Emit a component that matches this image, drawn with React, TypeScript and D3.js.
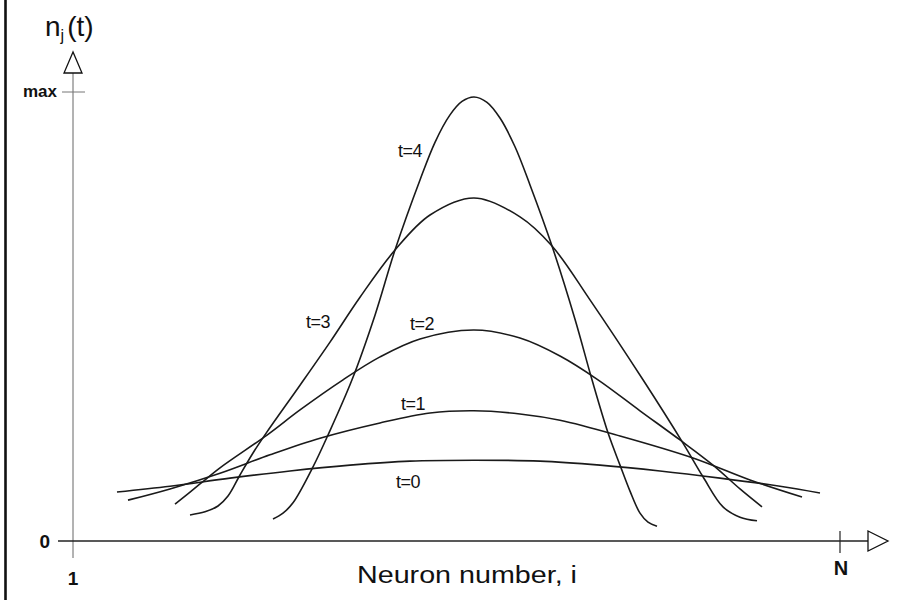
import React from "react";
import * as d3 from "d3";

// Neuron index axis runs from 1 to N (N = 768 neurons); activity from 0 to max (=1)
const N_NEURONS = 768;
const MAX_VALUE = 1;

const xTickLabels = ["1", "N"];
const yTickLabels = ["0", "max"];

// t = 0
const t0Index = [45, 98, 158, 218, 278, 338, 402, 468, 528, 588, 648, 708, 748];
const t0Value = [0.109, 0.122, 0.14, 0.156, 0.169, 0.178, 0.18, 0.178, 0.169, 0.156, 0.14, 0.122, 0.107];

// t = 1
const t1Index = [56, 98, 148, 198, 248, 308, 358, 402, 448, 488, 548, 621, 678, 730];
const t1Value = [0.091, 0.116, 0.151, 0.192, 0.229, 0.263, 0.285, 0.29, 0.283, 0.269, 0.234, 0.185, 0.136, 0.098];

// t = 2
const t2Index = [103, 128, 148, 195, 228, 271, 308, 348, 402, 448, 488, 526, 568, 608, 641, 668, 690];
const t2Value = [0.082, 0.127, 0.163, 0.236, 0.292, 0.359, 0.41, 0.45, 0.47, 0.452, 0.412, 0.359, 0.29, 0.225, 0.169, 0.116, 0.076];

// t = 3
const t3Index = [118, 133, 146, 156, 168, 181, 195, 228, 258, 288, 323, 358, 402, 448, 480, 518, 571, 611, 631, 651, 668, 685];
const t3Value = [0.058, 0.065, 0.078, 0.1, 0.147, 0.196, 0.243, 0.347, 0.443, 0.543, 0.648, 0.726, 0.764, 0.722, 0.657, 0.537, 0.359, 0.218, 0.143, 0.076, 0.053, 0.045];

// t = 4
const t4Index = [201, 211, 221, 241, 256, 280, 303, 323, 348, 363, 378, 390, 402, 415, 428, 443, 458, 480, 503, 520, 536, 548, 558, 568, 576, 585];
const t4Value = [0.049, 0.062, 0.085, 0.165, 0.236, 0.359, 0.503, 0.648, 0.804, 0.888, 0.949, 0.979, 0.989, 0.977, 0.942, 0.878, 0.793, 0.657, 0.494, 0.359, 0.241, 0.169, 0.111, 0.062, 0.042, 0.033];

const seriesNames = ["t=0", "t=1", "t=2", "t=3", "t=4"];
const seriesIndex = [t0Index, t1Index, t2Index, t3Index, t4Index];
const seriesValue = [t0Value, t1Value, t2Value, t3Value, t4Value];

// label anchors in data units (neuron index, activity)
const labelIndex = [336, 341, 350, 246, 338];
const labelValue = [0.118, 0.292, 0.47, 0.474, 0.855];

const W = 901;
const H = 600;
const FONT = "'Liberation Sans', Arial, sans-serif";

export default function App() {
  const x = d3.scaleLinear().domain([1, N_NEURONS]).range([73, 840]);
  const y = d3.scaleLinear().domain([0, MAX_VALUE]).range([541, 92]);

  const line = d3
    .line<[number, number]>()
    .x((d) => x(d[0]))
    .y((d) => y(d[1]))
    .curve(d3.curveCatmullRom.alpha(0.5));

  const x0 = x(1);
  const xN = x(N_NEURONS);
  const y0 = y(0);
  const yMax = y(MAX_VALUE);

  const yArrowTip = 52;
  const yArrowBase = 73;
  const xArrowBase = 868;
  const xArrowTip = 888;

  return (
    <svg
      width={W}
      height={H}
      viewBox={`0 0 ${W} ${H}`}
      style={{ position: "absolute", left: 0, top: 0, background: "#ffffff" }}
    >
      <rect x={0} y={0} width={W} height={H} fill="#ffffff" />
      {/* left border of the scan */}
      <line x1={5.5} y1={0} x2={5.5} y2={H} stroke="#111" strokeWidth={2.6} />

      {/* y axis */}
      <line x1={x0} y1={yArrowBase} x2={x0} y2={558} stroke="#666" strokeWidth={1} />
      <path
        d={`M${x0},${yArrowTip} L${x0 - 9},${yArrowBase} L${x0 + 9},${yArrowBase} Z`}
        fill="#fff"
        stroke="#111"
        strokeWidth={1.3}
      />
      <line x1={62} y1={yMax} x2={85} y2={yMax} stroke="#777" strokeWidth={1} />

      {/* x axis */}
      <line x1={58} y1={y0} x2={xArrowBase} y2={y0} stroke="#222" strokeWidth={1.5} />
      <path
        d={`M${xArrowBase},${y0 - 10} L${xArrowTip},${y0} L${xArrowBase},${y0 + 10} Z`}
        fill="#fff"
        stroke="#111"
        strokeWidth={1.3}
      />
      <line x1={xN} y1={y0 - 10} x2={xN} y2={y0 + 12} stroke="#222" strokeWidth={1.2} />

      {/* tick labels */}
      <text x={x0} y={585} fontFamily={FONT} fontSize={19} fontWeight="bold" textAnchor="middle" fill="#111">
        {xTickLabels[0]}
      </text>
      <text x={xN + 1} y={575} fontFamily={FONT} fontSize={20} fontWeight="bold" textAnchor="middle" fill="#111">
        {xTickLabels[1]}
      </text>
      <text x={50} y={y0 + 7} fontFamily={FONT} fontSize={19} fontWeight="bold" textAnchor="end" fill="#111">
        {yTickLabels[0]}
      </text>
      <text x={57} y={yMax + 5} fontFamily={FONT} fontSize={17} fontWeight="bold" textAnchor="end" fill="#111">
        {yTickLabels[1]}
      </text>

      {/* axis titles */}
      <text x={45} y={36} fontFamily={FONT} fontSize={28} fill="#111">
        n
        <tspan fontSize={16} dy={5}>
          j
        </tspan>
        <tspan fontSize={28} dy={-5} dx={3}>
          (t)
        </tspan>
      </text>
      <text
        x={467}
        y={583}
        fontFamily={FONT}
        fontSize={23}
        textAnchor="middle"
        fill="#111"
        textLength={220}
        lengthAdjust="spacingAndGlyphs"
      >
        Neuron number, i
      </text>

      {/* curves */}
      {seriesNames.map((name, k) => {
        const pts: [number, number][] = seriesIndex[k].map((v, i) => [v, seriesValue[k][i]]);
        return <path key={name} d={line(pts) || ""} fill="none" stroke="#1a1a1a" strokeWidth={1.6} />;
      })}

      {/* curve labels */}
      {seriesNames.map((name, k) => (
        <text
          key={"l" + name}
          x={x(labelIndex[k])}
          y={y(labelValue[k])}
          fontFamily={FONT}
          fontSize={18}
          textAnchor="middle"
          fill="#111"
          letterSpacing={-0.5}
        >
          {name}
        </text>
      ))}
    </svg>
  );
}
